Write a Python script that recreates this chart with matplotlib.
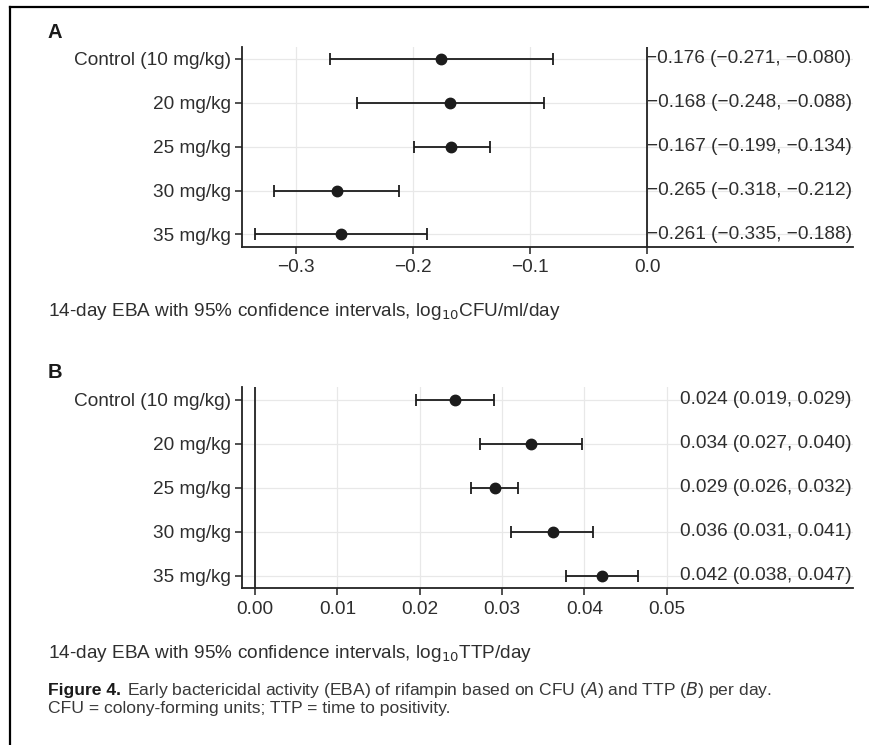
import matplotlib.pyplot as plt
from matplotlib.lines import Line2D
from matplotlib.transforms import blended_transform_factory

plt.rcParams['font.family'] = ['Liberation Sans', 'DejaVu Sans']

doses = ['Control (10 mg/kg)', '20 mg/kg', '25 mg/kg', '30 mg/kg', '35 mg/kg']

# panel A: CFU
cfu_est = [-0.176, -0.168, -0.167, -0.265, -0.261]
cfu_lo = [-0.271, -0.248, -0.199, -0.318, -0.335]
cfu_hi = [-0.080, -0.088, -0.134, -0.212, -0.188]
cfu_text = ['\u22120.176 (\u22120.271, \u22120.080)',
            '\u22120.168 (\u22120.248, \u22120.088)',
            '\u22120.167 (\u22120.199, \u22120.134)',
            '\u22120.265 (\u22120.318, \u22120.212)',
            '\u22120.261 (\u22120.335, \u22120.188)']
cfu_ticks = [-0.3, -0.2, -0.1, 0.0]
cfu_ticklabels = ['\u22120.3', '\u22120.2', '\u22120.1', '0.0']

# panel B: TTP
ttp_est = [0.0243, 0.0335, 0.0291, 0.0362, 0.0421]
ttp_lo = [0.0196, 0.0273, 0.0262, 0.0311, 0.0378]
ttp_hi = [0.0290, 0.0397, 0.0320, 0.0411, 0.0465]
ttp_text = ['0.024 (0.019, 0.029)', '0.034 (0.027, 0.040)', '0.029 (0.026, 0.032)',
            '0.036 (0.031, 0.041)', '0.042 (0.038, 0.047)']
ttp_ticks = [0.00, 0.01, 0.02, 0.03, 0.04, 0.05]
ttp_ticklabels = ['0.00', '0.01', '0.02', '0.03', '0.04', '0.05']

FS = 13.7
TXT = '#2e2e2e'
DOT = '#1c1c1c'

fig = plt.figure(figsize=(8.69, 7.45), dpi=100)


def panel(rect, est, lo, hi, labels, ticks, ticklabels, xlim):
    ax = fig.add_axes(rect)
    y = list(range(1, len(doses) + 1))
    xerr = [[e - l for e, l in zip(est, lo)], [h - e for e, h in zip(est, hi)]]
    ax.errorbar(est, y, xerr=xerr, fmt='o', color=DOT, ms=7.5, elinewidth=1.3,
                capsize=4.5, capthick=1.3, zorder=3)
    ax.axvline(0, color='#222222', lw=1.3, zorder=2)
    ax.set_xlim(*xlim)
    ax.set_ylim(len(doses) + 0.28, 0.72)
    ax.set_yticks(y)
    ax.set_yticklabels(doses)
    ax.set_xticks(ticks)
    ax.set_xticklabels(ticklabels)
    ax.grid(True, color='#e8e8e8', lw=0.9, zorder=0)
    ax.set_axisbelow(True)
    for s in ['top', 'right']:
        ax.spines[s].set_visible(False)
    for s in ['left', 'bottom']:
        ax.spines[s].set_linewidth(1.3)
        ax.spines[s].set_color('#222222')
    ax.tick_params(axis='both', length=5, width=1.1, color='#222222',
                   labelsize=FS, labelcolor=TXT)
    ax.tick_params(axis='y', pad=3)
    ax.tick_params(axis='x', pad=4)
    tr = blended_transform_factory(ax.transAxes, ax.transData)
    for yy, t in zip(y, labels):
        ax.text(0.997, yy, t, transform=tr, ha='right', va='center',
                fontsize=FS, color=TXT)
    return ax


panel([0.2781, 0.6689, 0.7039, 0.2685], cfu_est, cfu_lo, cfu_hi, cfu_text,
      cfu_ticks, cfu_ticklabels, (-0.346, 0.176))
panel([0.2781, 0.2103, 0.7039, 0.2698], ttp_est, ttp_lo, ttp_hi, ttp_text,
      ttp_ticks, ttp_ticklabels, (-0.00162, 0.07267))

# panel letters and axis captions
fig.text(48 / 869, 1 - 32 / 745, 'A', fontsize=14.5, fontweight='bold',
         color='#1a1a1a', va='center')
fig.text(48 / 869, 1 - 372 / 745, 'B', fontsize=14.5, fontweight='bold',
         color='#1a1a1a', va='center')
fig.text(48 / 869, 1 - 312 / 745,
         '14-day EBA with 95% confidence intervals, log$_{10}$CFU/ml/day',
         fontsize=FS, color=TXT, va='center')
fig.text(48 / 869, 1 - 653 / 745,
         '14-day EBA with 95% confidence intervals, log$_{10}$TTP/day',
         fontsize=FS, color=TXT, va='center')

# figure caption
CAP = 12.6
cap1 = fig.text(48 / 869, 1 - 695.5 / 745, 'Figure 4.', fontsize=CAP,
                fontweight='bold', color='#1a1a1a', va='baseline')
fig.canvas.draw()
bb = cap1.get_window_extent()
fig.text((bb.x1 + 6) / 869, 1 - 695.5 / 745,
         'Early bactericidal activity (EBA) of rifampin based on CFU ($\\it{A}$) '
         'and TTP ($\\it{B}$) per day.',
         fontsize=CAP, color='#383838', va='baseline')
fig.text(48 / 869, 1 - 713 / 745,
         'CFU = colony-forming units; TTP = time to positivity.',
         fontsize=CAP, color='#383838', va='baseline')

# outer frame (top and left edges only)
fig.add_artist(Line2D([10 / 869, 1], [1 - 7 / 745, 1 - 7 / 745],
                      transform=fig.transFigure, color='black', lw=1.6))
fig.add_artist(Line2D([10 / 869, 10 / 869], [0, 1 - 7 / 745],
                      transform=fig.transFigure, color='black', lw=1.6))

fig.savefig('out.png', dpi=100)
